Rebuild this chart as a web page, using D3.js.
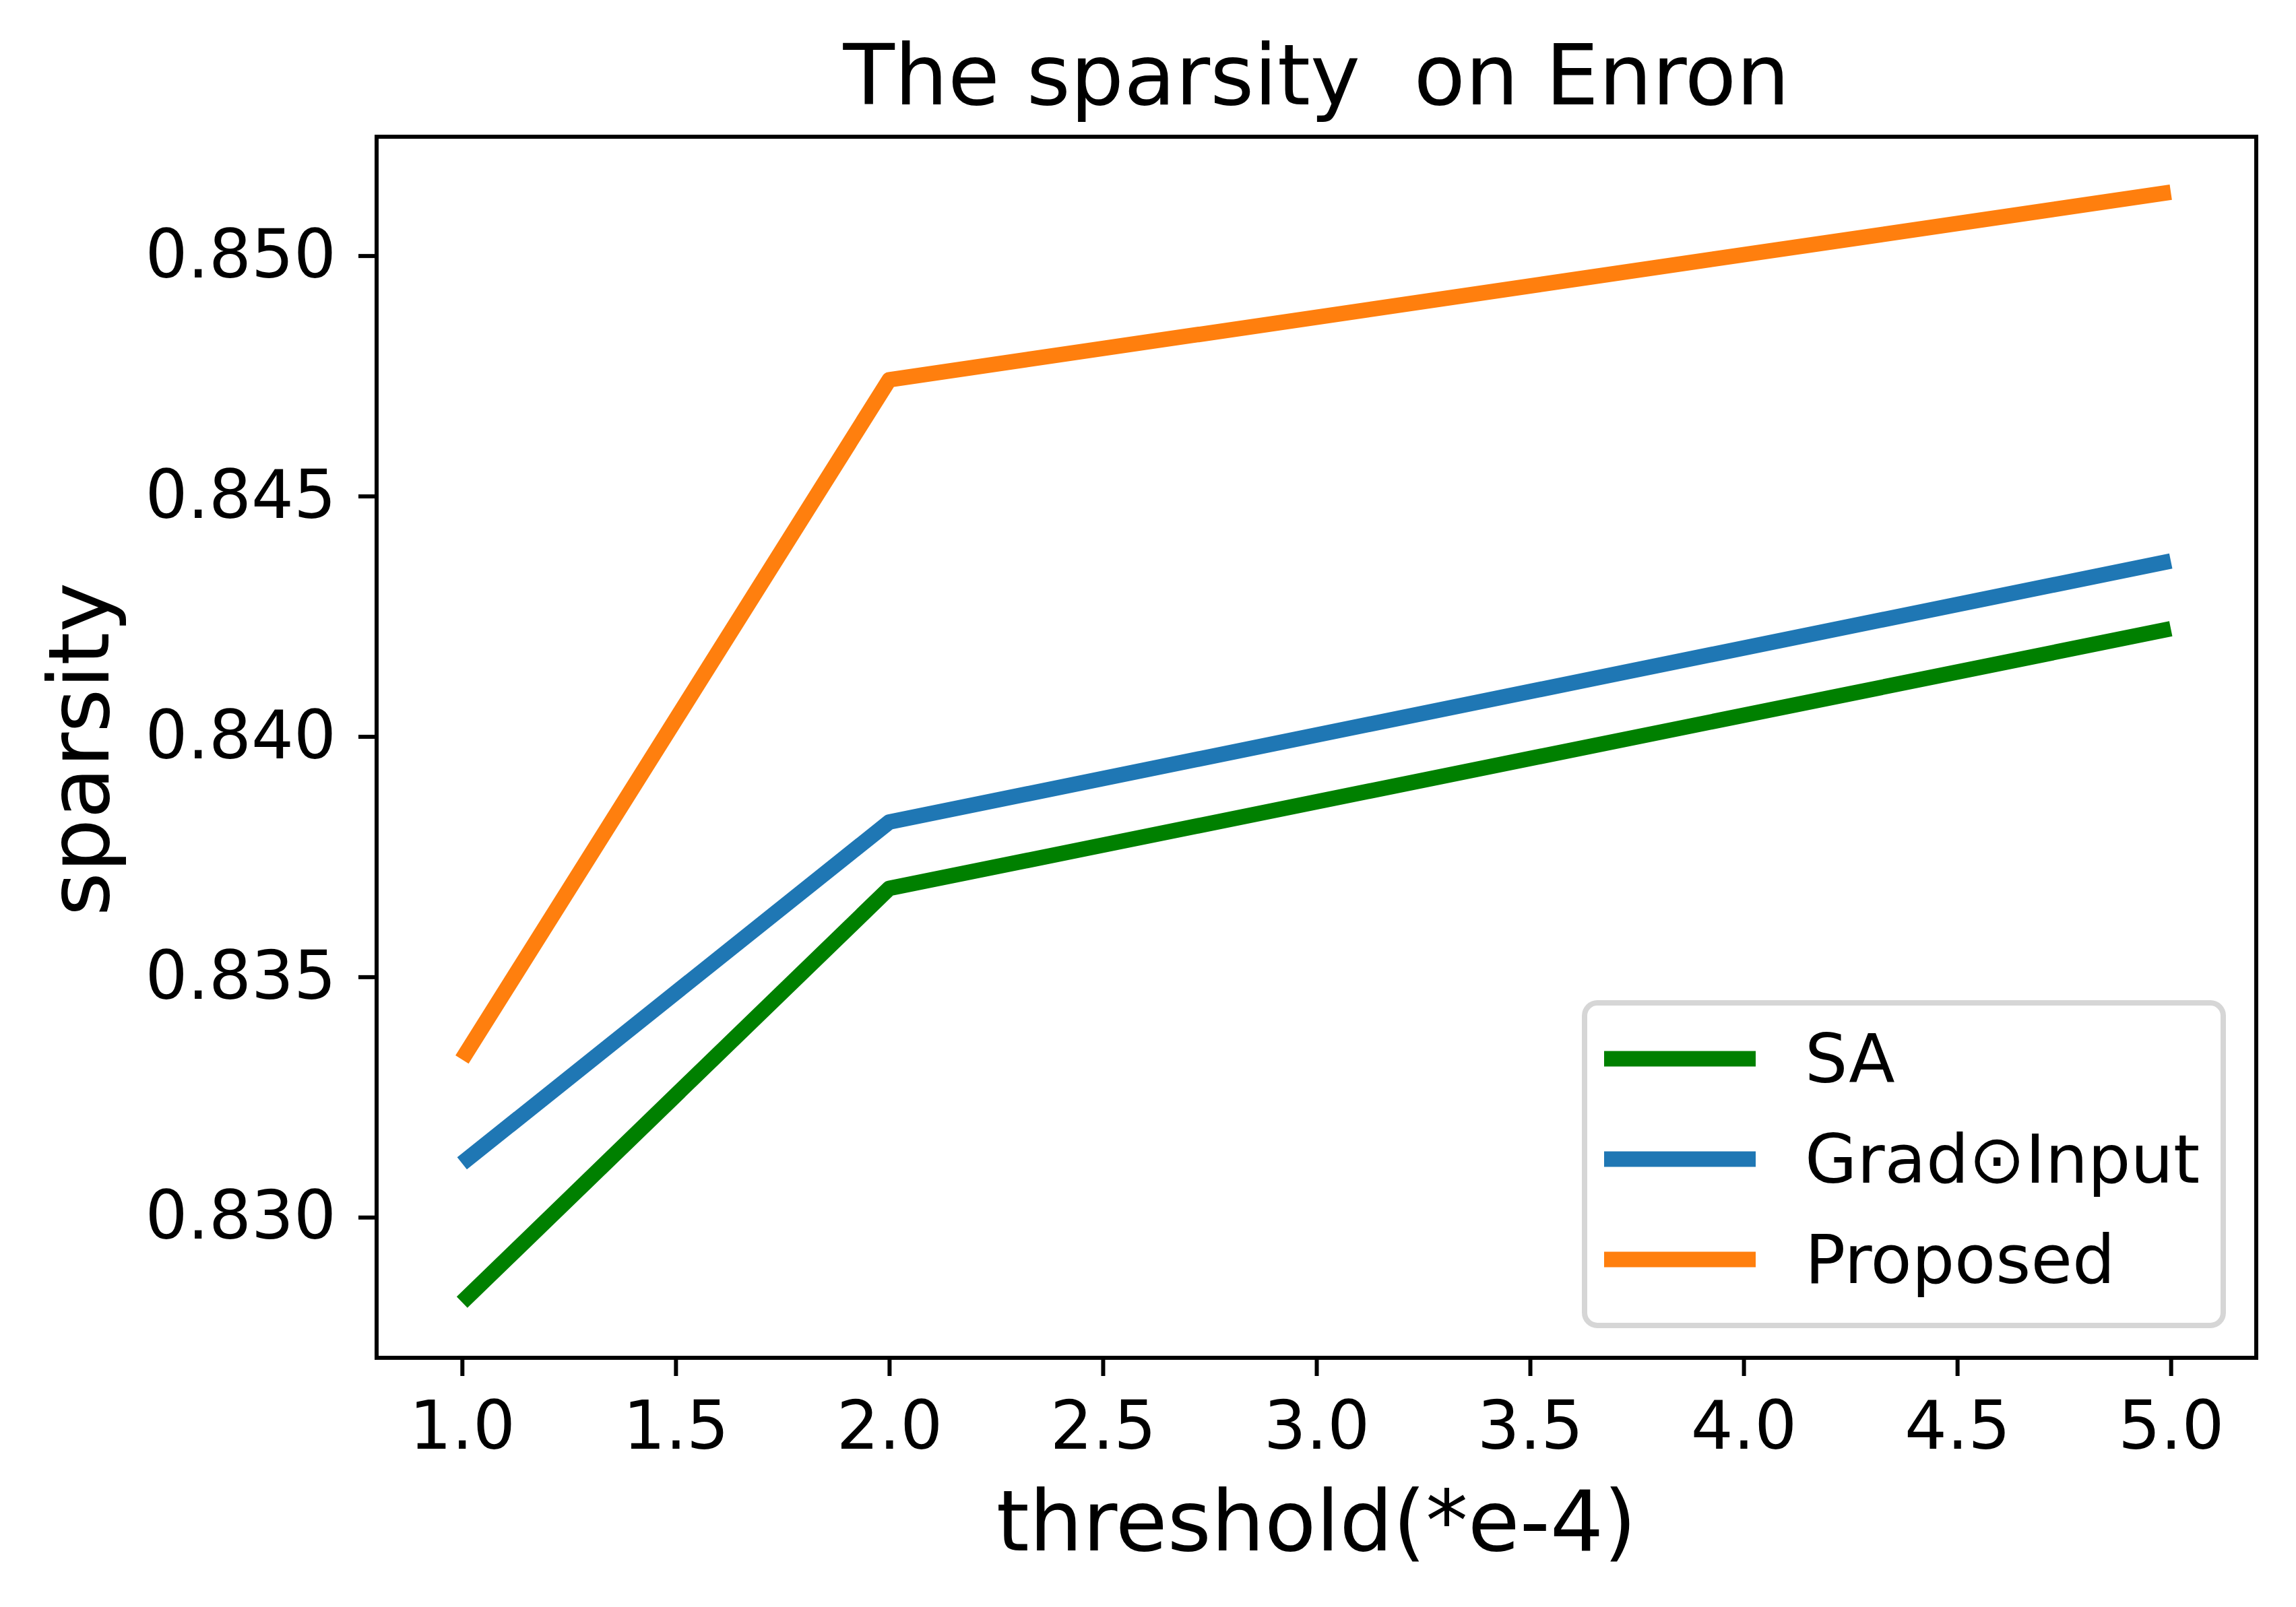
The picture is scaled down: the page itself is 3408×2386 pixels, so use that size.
<!DOCTYPE html>
<html lang="en">
<head>
  <meta charset="UTF-8">
  <title>The sparsity on Enron</title>
  <script src="https://d3js.org/d3.v7.min.js"></script>
  <style>
    body {
      margin: 0;
      background: #fff;
    }
    svg {
      display: block;
      font-family: 'DejaVu Sans', sans-serif;
    }
    .tick text {
      font-size: 99px;
      fill: #000;
    }
    .tick line {
      stroke: #000;
      stroke-width: 6;
    }
    .series {
      fill: none;
      stroke-width: 23;
      stroke-linejoin: round;
      stroke-linecap: butt;
    }
  </style>
</head>
<body>
  <svg id="chart" width="3408" height="2386"></svg>
  <script>
    // values
    const thresholds = [1, 2, 5];
    const saValues = [0.82823, 0.83684, 0.84224];
    const gradInputValues = [0.83112, 0.83822, 0.84365];
    const proposedValues = [0.83328, 0.84742, 0.85132];

    const seriesNames = ["SA", "Grad\u2299Input", "Proposed"];
    const seriesColors = ["green", "#1f77b4", "#ff7f0e"];

    const xTicks = [1.0, 1.5, 2.0, 2.5, 3.0, 3.5, 4.0, 4.5, 5.0];
    const yTicks = [0.830, 0.835, 0.840, 0.845, 0.850];

    const series = [saValues, gradInputValues, proposedValues].map((vals, i) => ({
      name: seriesNames[i],
      color: seriesColors[i],
      points: vals.map((v, j) => ({ x: thresholds[j], y: v }))
    }));

    const plot = { left: 559, top: 203, right: 3349, bottom: 2016 };

    // matplotlib style 5% margins around the data
    function padded(ext) {
      const m = (ext[1] - ext[0]) * 0.05;
      return [ext[0] - m, ext[1] + m];
    }
    const allY = saValues.concat(gradInputValues, proposedValues);

    const x = d3.scaleLinear()
      .domain(padded(d3.extent(thresholds)))
      .range([plot.left, plot.right]);
    const y = d3.scaleLinear()
      .domain(padded(d3.extent(allY)))
      .range([plot.bottom, plot.top]);

    const svg = d3.select("#chart");
    svg.append("rect").attr("width", 3408).attr("height", 2386).attr("fill", "#fff");

    // axes
    const xAxis = svg.append("g")
      .attr("transform", `translate(0, ${plot.bottom})`)
      .call(d3.axisBottom(x).tickValues(xTicks).tickFormat(d3.format(".1f"))
        .tickSize(27).tickSizeOuter(0).tickPadding(38));
    xAxis.select(".domain").remove();

    const yAxis = svg.append("g")
      .attr("transform", `translate(${plot.left}, 0)`)
      .call(d3.axisLeft(y).tickValues(yTicks).tickFormat(d3.format(".3f"))
        .tickSize(27).tickSizeOuter(0).tickPadding(33));
    yAxis.select(".domain").remove();

    svg.selectAll(".tick text").attr("font-family", "'DejaVu Sans', sans-serif");

    // lines
    const line = d3.line().x(d => x(d.x)).y(d => y(d.y));
    svg.selectAll(".series")
      .data(series)
      .enter()
      .append("path")
      .attr("class", "series")
      .attr("stroke", d => d.color)
      .attr("d", d => line(d.points));

    // frame
    svg.append("rect")
      .attr("x", plot.left).attr("y", plot.top)
      .attr("width", plot.right - plot.left).attr("height", plot.bottom - plot.top)
      .attr("fill", "none").attr("stroke", "#000").attr("stroke-width", 6);

    // title and axis labels
    const midX = (plot.left + plot.right) / 2;
    svg.append("text")
      .attr("x", midX).attr("y", 155)
      .attr("text-anchor", "middle")
      .style("white-space", "pre")
      .attr("font-size", 125)
      .text("The sparsity  on Enron");

    svg.append("text")
      .attr("x", midX).attr("y", 2302)
      .attr("text-anchor", "middle")
      .attr("font-size", 125)
      .text("threshold(*e-4)");

    svg.append("text")
      .attr("transform", `translate(161, ${(plot.top + plot.bottom) / 2 + 3}) rotate(-90)`)
      .attr("text-anchor", "middle")
      .attr("font-size", 125)
      .text("sparsity");

    // legend
    const legend = svg.append("g").attr("transform", "translate(2352, 1489)");
    legend.append("rect")
      .attr("width", 948).attr("height", 479)
      .attr("rx", 19).attr("ry", 19)
      .attr("fill", "#fff")
      .attr("stroke", "#d6d6d6").attr("stroke-width", 8);

    const items = legend.selectAll(".legend-item")
      .data(series)
      .enter()
      .append("g")
      .attr("class", "legend-item")
      .attr("transform", (d, i) => `translate(0, ${83 + i * 149})`);

    items.append("line")
      .attr("x1", 29).attr("x2", 254)
      .attr("stroke", d => d.color)
      .attr("stroke-width", 23);

    items.append("text")
      .attr("x", 327).attr("y", 35)
      .attr("font-size", 100)
      .text(d => d.name);
  </script>
</body>
</html>
